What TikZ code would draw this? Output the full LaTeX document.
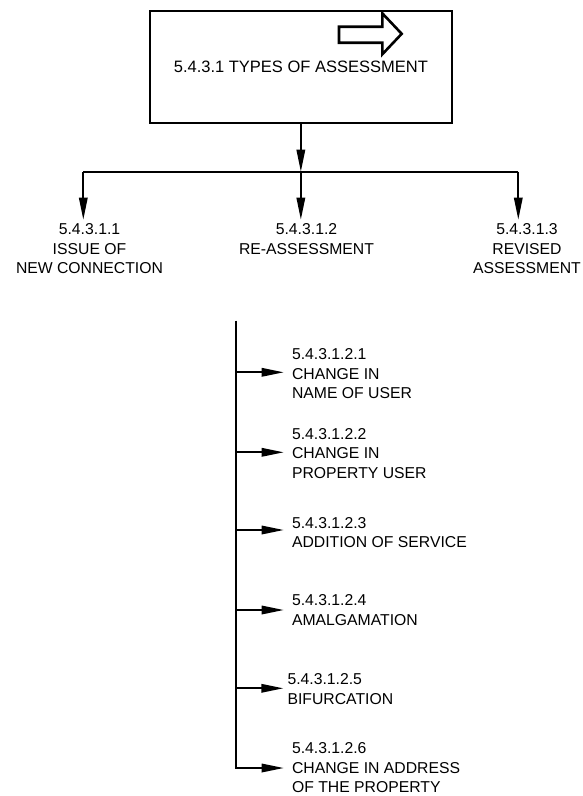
\documentclass[tikz,border=0pt]{standalone}
\usepackage{fontspec}
\setmainfont{Liberation Sans}
\usetikzlibrary{arrows.meta}
\begin{document}
\begin{tikzpicture}[x=1pt,y=-1pt,
  line width=1.7pt,
  arr/.style={-{Triangle[length=22pt,width=8.5pt]}},
  lbl/.style={font=\fontsize{15.75}{19.6}\selectfont, inner xsep=0pt, inner ysep=3pt, align=center, anchor=base},
  item/.style={font=\fontsize{15.75}{19.6}\selectfont, inner xsep=7.5pt, inner ysep=0pt, align=left, anchor=base west},
  titlebox/.style={draw, line width=1.8pt, minimum width=301.7pt, minimum height=112pt, inner sep=0pt, font=\fontsize{16.5}{19.8}\selectfont},
  icon/.style={line width=2.6pt, line join=miter}]
\useasboundingbox (0,0) rectangle (582,796);
% title box
\node[titlebox] (box) at (300.85,67) {5.4.3.1 TYPES OF ASSESSMENT};
\draw[icon] (339,26.7) -- (382.3,26.7) -- (382.3,13.3) -- (401.7,33.8) -- (382.3,54.3) -- (382.3,42.7) -- (339,42.7) -- cycle;
% bus
\coordinate (j) at (300.85,171.7);
\coordinate (jl) at (83.3,171.7);
\coordinate (jr) at (518.3,171.7);
\draw[arr] (box.south) -- (j);
\draw (jl) -- (jr);
% base anchor = baseline of the last line
\node[lbl] (c1) at (89.5,273.7) {5.4.3.1.1\\ISSUE OF\\NEW CONNECTION};
\node[lbl] (c2) at (306.5,254.1) {5.4.3.1.2\\RE-ASSESSMENT};
\node[lbl] (c3) at (527,273.7) {5.4.3.1.3\\REVISED\\ASSESSMENT};
\draw[arr] (jl) -- (jl |- c1.north);
\draw[arr] (j) -- (j |- c2.north);
\draw[arr] (jr) -- (jr |- c3.north);
% lower list
\coordinate (vtop) at (236,320.7);
\coordinate (b1) at (236,372.3);
\coordinate (b2) at (236,452.3);
\coordinate (b3) at (236,530);
\coordinate (b4) at (236,610);
\coordinate (b5) at (236,688.3);
\coordinate (b6) at (236,768);
\node[item] (n1) at (283.7,398.6) {5.4.3.1.2.1\\CHANGE IN\\NAME OF USER};
\node[item] (n2) at (283.7,478.4) {5.4.3.1.2.2\\CHANGE IN\\PROPERTY USER};
\node[item] (n3) at (283.7,547.6) {5.4.3.1.2.3\\ADDITION OF SERVICE};
\node[item] (n4) at (283.7,625.5) {5.4.3.1.2.4\\AMALGAMATION};
\node[item, inner xsep=3.4pt] (n5) at (283.3,704.1) {5.4.3.1.2.5\\BIFURCATION};
\node[item] (n6) at (283.7,792.8) {5.4.3.1.2.6\\CHANGE IN ADDRESS\\OF THE PROPERTY};
\draw[arr] (vtop) -- (b6) -- (b6 -| n6.west);
\draw[arr] (b1) -- (b1 -| n1.west);
\draw[arr] (b2) -- (b2 -| n2.west);
\draw[arr] (b3) -- (b3 -| n3.west);
\draw[arr] (b4) -- (b4 -| n4.west);
\draw[arr] (b5) -- (b5 -| n5.west);
\end{tikzpicture}
\end{document}
